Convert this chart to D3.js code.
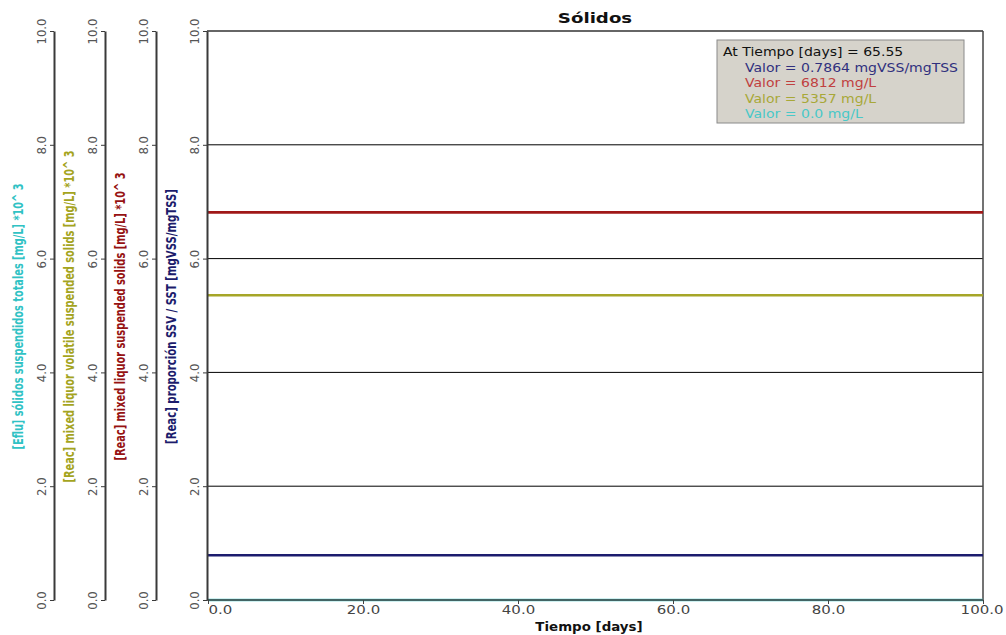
<!DOCTYPE html>
<html><head><meta charset="utf-8">
<script src="https://cdn.jsdelivr.net/npm/d3@7"></script>
<style>
html,body{margin:0;padding:0;background:#fff;}
svg{display:block;}
</style></head>
<body>
<svg id="chart" width="1006" height="635"></svg>
<script>
// ---- data ----
const tiempo = [0, 100];
const xTicks = [0, 20, 40, 60, 80, 100];
const yTicks = [0, 2, 4, 6, 8, 10];
const gridTicks = [2, 4, 6, 8];
const axisTitles = [
  "[Eflu] sólidos suspendidos totales [mg/L] *10^ 3",
  "[Reac] mixed liquor volatile suspended solids [mg/L] *10^ 3",
  "[Reac] mixed liquor suspended solids [mg/L] *10^ 3",
  "[Reac] proporción SSV / SST [mgVSS/mgTSS]"
];
const axisColors = ["#30c2c4", "#a4a41e", "#961212", "#1c1c6c"];
const serieEflu = [0.0, 0.0];        // *10^3 mg/L
const serieMLVSS = [5.357, 5.357];   // *10^3 mg/L
const serieMLSS = [6.812, 6.812];    // *10^3 mg/L
const serieRatio = [0.7864, 0.7864]; // mgVSS/mgTSS
const legendHeader = "At Tiempo [days] = 65.55";
const legendLines = [
  "Valor = 0.7864 mgVSS/mgTSS",
  "Valor = 6812 mg/L",
  "Valor = 5357 mg/L",
  "Valor = 0.0 mg/L"
];
const legendColors = ["#30307e", "#c04040", "#a8a838", "#48c8c8"];

// ---- layout ----
const svg = d3.select("#chart");
const L = 207, R = 983, T = 31, B = 600;
const axisX = [54, 105, 156, 207];
const titleLen = [266, 332, 288, 255];

const x = d3.scaleLinear().domain([0, 100]).range([L + 1, R]);
const y = d3.scaleLinear().domain([0, 10]).range([B, T]);

const condensed = "'Liberation Sans Narrow','DejaVu Sans Condensed','Arial Narrow',sans-serif";
const wide = "'DejaVu Sans',Verdana,sans-serif";

// grid lines
svg.append("g").selectAll("line").data(gridTicks).join("line")
  .attr("x1", L).attr("x2", R)
  .attr("y1", d => y(d)).attr("y2", d => y(d))
  .attr("stroke", "#000").attr("stroke-width", 1);

// plot frame: top & right
svg.append("line").attr("x1", L).attr("x2", R).attr("y1", T).attr("y2", T)
  .attr("stroke", "#333").attr("stroke-width", 1.5);
svg.append("line").attr("x1", R).attr("x2", R).attr("y1", T).attr("y2", B)
  .attr("stroke", "#444").attr("stroke-width", 1.5);

// series lines
const series = [
  {vals: serieRatio, color: "#1c1c6e"},
  {vals: serieMLSS, color: "#a01818"},
  {vals: serieMLVSS, color: "#a6a628"},
  {vals: serieEflu, color: "#40c8c8"}
];
const lineGen = d3.line().x((d, i) => x(tiempo[i])).y(d => y(d));
svg.append("g").selectAll("path").data(series).join("path")
  .attr("d", s => lineGen(s.vals))
  .attr("fill", "none").attr("stroke", s => s.color).attr("stroke-width", 2.6);

// bottom x axis
const sx = 1.2;
const xAxis = d3.axisBottom(x).tickValues(xTicks).tickFormat(d3.format(".1f")).tickSize(4).tickSizeOuter(0);
const gx = svg.append("g").attr("transform", `translate(0,${B})`).call(xAxis);
gx.select(".domain").attr("stroke", "#444").attr("stroke-width", 1.5).attr("d", `M${L},0H${R}`);
gx.selectAll(".tick line").attr("stroke", "#444");
gx.selectAll(".tick text").attr("font-family", wide).attr("font-size", 12.5)
  .attr("fill", "#444").attr("dy", null).attr("dominant-baseline", "central").attr("y", 9)
  .attr("transform", `scale(${sx},1)`)
  .attr("text-anchor", (d, i) => i === 0 ? "start" : (i === xTicks.length - 1 ? "end" : "middle"))
  .attr("x", (d, i) => i === xTicks.length - 1 ? 20 / sx : 0);

// y axes
axisX.forEach((ax, k) => {
  const yAxis = d3.axisLeft(y).tickValues(yTicks).tickFormat(d3.format(".1f")).tickSize(4).tickSizeOuter(0);
  const g = svg.append("g").attr("transform", `translate(${ax},0)`).call(yAxis);
  g.select(".domain").attr("stroke", "#3a3a3a").attr("stroke-width", 2);
  g.selectAll(".tick line").attr("stroke", "#3a3a3a");
  g.selectAll(".tick text")
    .attr("x", null).attr("dy", null)
    .attr("transform", "translate(-13,0) rotate(-90)")
    .attr("text-anchor", "middle").attr("dominant-baseline", "central")
    .attr("font-family", condensed).attr("font-size", 13).attr("fill", "#555");
  svg.append("text")
    .attr("transform", `translate(${ax - 36},${(T + B) / 2 + 1}) rotate(-90)`)
    .attr("text-anchor", "middle").attr("dominant-baseline", "central")
    .attr("font-family", condensed).attr("font-size", 14).attr("font-weight", "bold")
    .attr("textLength", titleLen[k]).attr("lengthAdjust", "spacingAndGlyphs")
    .attr("fill", axisColors[k]).text(axisTitles[k]);
});

// title
svg.append("text").attr("transform", "translate(595,18) scale(1.3,1)")
  .attr("text-anchor", "middle").attr("dominant-baseline", "central")
  .attr("font-family", wide).attr("font-weight", "bold")
  .attr("font-size", 14).attr("fill", "#111").text("Sólidos");

// x axis title
svg.append("text").attr("transform", "translate(589,627) scale(1.03,1)")
  .attr("text-anchor", "middle").attr("dominant-baseline", "central")
  .attr("font-family", wide).attr("font-weight", "bold")
  .attr("font-size", 13).attr("fill", "#111").text("Tiempo [days]");

// legend box
const ls = 1.22;
const lg = svg.append("g").attr("transform", "translate(717,40)");
lg.append("rect").attr("width", 247).attr("height", 83)
  .attr("fill", "#d6d3cb").attr("stroke", "#8a8a8a").attr("stroke-width", 1);
lg.append("text").attr("transform", `translate(6,12) scale(${ls},1)`).attr("dominant-baseline", "central")
  .attr("font-family", wide).attr("font-size", 11.5)
  .attr("fill", "#111").text(legendHeader);
lg.selectAll("text.v").data(legendLines).join("text").attr("class", "v")
  .attr("transform", (d, i) => `translate(28,${28 + i * 15.3}) scale(${ls},1)`)
  .attr("dominant-baseline", "central")
  .attr("font-family", wide).attr("font-size", 11.5)
  .attr("fill", (d, i) => legendColors[i]).text(d => d);
</script>
</body></html>
